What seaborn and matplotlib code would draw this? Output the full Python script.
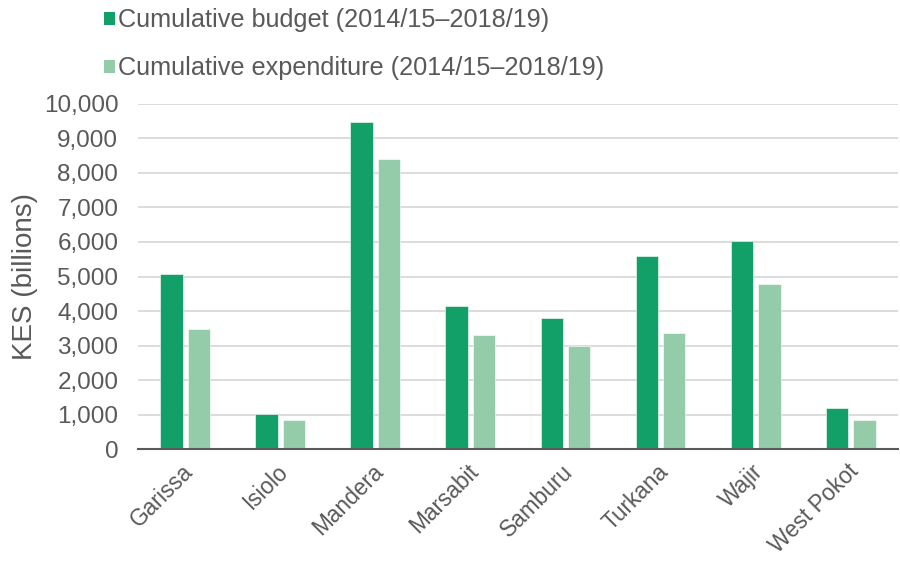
import matplotlib
matplotlib.use("Agg")
import matplotlib.pyplot as plt
import matplotlib.transforms as mtransforms
from matplotlib.patches import Patch
from matplotlib.ticker import FuncFormatter, MultipleLocator
import seaborn as sns
import pandas as pd

counties = ["Garissa", "Isiolo", "Mandera", "Marsabit", "Samburu", "Turkana", "Wajir", "West Pokot"]
budget = [5060, 1020, 9470, 4140, 3810, 5590, 6030, 1180]
expenditure = [3470, 840, 8400, 3300, 2990, 3350, 4790, 840]
series_names = ["Cumulative budget (2014/15\u20132018/19)",
                "Cumulative expenditure (2014/15\u20132018/19)"]
colors = ["#12A068", "#94CBA9"]

df = pd.DataFrame({
    "county": counties * 2,
    "value": budget + expenditure,
    "series": [series_names[0]] * len(counties) + [series_names[1]] * len(counties),
})

sns.set_theme(style="white")
plt.rcParams["font.family"] = ["Liberation Sans", "DejaVu Sans"]
text_color = "#595959"

fig = plt.figure(figsize=(9, 5.62), dpi=100)
ax = fig.add_axes([0.153, 0.201, 0.845, 0.614])

sns.barplot(data=df, x="county", y="value", hue="series", palette=colors,
            width=0.58, gap=0.19, ax=ax, legend=False, saturation=1,
            edgecolor="white", linewidth=0.4)

ax.set_ylim(0, 10000)
ax.set_xlim(-0.5, len(counties) - 0.5)
ax.yaxis.set_major_locator(MultipleLocator(1000))
ax.yaxis.set_major_formatter(FuncFormatter(lambda v, p: f"{int(v):,}"))
ax.grid(axis="y", color="#D9D9D9", linewidth=1.3)
ax.set_axisbelow(True)
for side in ["top", "right", "left"]:
    ax.spines[side].set_visible(False)
ax.spines["bottom"].set_color("#595959")
ax.spines["bottom"].set_linewidth(1.5)
ax.tick_params(axis="both", length=0, colors=text_color)
ax.tick_params(axis="y", pad=14, labelsize=17.5)
ax.tick_params(axis="x", pad=8, labelsize=16.3)
ax.set_xlabel("")
ax.set_ylabel("KES (billions)", fontsize=20, color=text_color, labelpad=4)

# rotated county names, nudged left under each group
shift = mtransforms.ScaledTranslation(-4 / 100, 0, fig.dpi_scale_trans)
for lbl in ax.get_xticklabels():
    lbl.set_rotation(45)
    lbl.set_ha("right")
    lbl.set_va("top")
    lbl.set_rotation_mode("anchor")
    lbl.set_transform(lbl.get_transform() + shift)

handles = [Patch(facecolor=c, edgecolor="none") for c in colors]
fig.legend(handles, series_names, loc="upper left", bbox_to_anchor=(0.1156, 0.985),
           frameon=False, fontsize=18.2, labelcolor=text_color,
           handlelength=0.45, handleheight=0.45, handletextpad=0.12,
           labelspacing=0.95, borderpad=0, borderaxespad=0)

fig.savefig("out.png", dpi=100)
